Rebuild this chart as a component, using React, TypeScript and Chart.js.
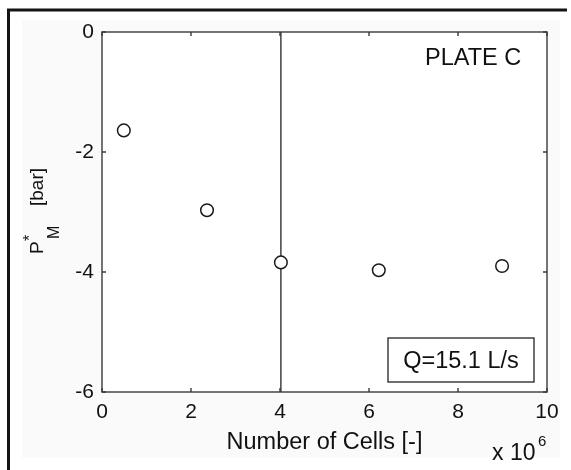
import React, { useEffect, useRef } from 'react';
import { Chart, registerables } from 'chart.js';

Chart.register(...registerables);

// Data (x in units of 10^6 cells)
const cellCounts = [0.49, 2.36, 4.02, 6.22, 8.99];
const pressures = [-1.64, -2.97, -3.84, -3.97, -3.9];
const refLineX = [4.02, 4.02];
const refLineY = [0, -6];
const xTicks = [0, 2, 4, 6, 8, 10];
const yTicks = [0, -2, -4, -6];
const plateLabel = 'PLATE C';
const flowLabel = 'Q=15.1 L/s';
const xTitle = 'Number of Cells [-]';

const FONT = '"Liberation Sans", Arial, sans-serif';

const decorPlugin = {
  id: 'decor',
  beforeDraw(chart: any) {
    const ctx = chart.ctx;
    const { left, top, right, bottom } = chart.chartArea;
    ctx.save();
    ctx.fillStyle = '#ffffff';
    ctx.fillRect(0, 0, chart.width, chart.height);
    ctx.fillStyle = '#fafafa';
    ctx.fillRect(22, 20, 538, 438);
    ctx.fillStyle = '#ffffff';
    ctx.fillRect(left, top, right - left, bottom - top);
    // outer frame (top + left)
    ctx.strokeStyle = '#141414';
    ctx.lineWidth = 3;
    ctx.beginPath();
    ctx.moveTo(8.5, 470);
    ctx.lineTo(8.5, 10);
    ctx.lineTo(567, 10);
    ctx.stroke();
    ctx.restore();
  },
  afterDraw(chart: any) {
    const ctx = chart.ctx;
    const { left, top, right, bottom } = chart.chartArea;
    const xs = chart.scales.x;
    const ys = chart.scales.y;
    ctx.save();
    // axis box
    ctx.strokeStyle = '#3a3a3a';
    ctx.lineWidth = 1.4;
    ctx.strokeRect(left, top, right - left, bottom - top);
    // inward ticks
    const tl = 4;
    ctx.beginPath();
    xTicks.forEach((v) => {
      const px = xs.getPixelForValue(v);
      ctx.moveTo(px, bottom);
      ctx.lineTo(px, bottom - tl);
      ctx.moveTo(px, top);
      ctx.lineTo(px, top + tl);
    });
    yTicks.forEach((v) => {
      const py = ys.getPixelForValue(v);
      ctx.moveTo(left, py);
      ctx.lineTo(left + tl, py);
      ctx.moveTo(right, py);
      ctx.lineTo(right - tl, py);
    });
    ctx.stroke();

    ctx.fillStyle = '#111111';
    ctx.textBaseline = 'alphabetic';
    // x title
    ctx.font = `23.5px ${FONT}`;
    ctx.textAlign = 'center';
    ctx.fillText(xTitle, (left + right) / 2, 449);
    // x 10^6
    ctx.textAlign = 'left';
    ctx.font = `23px ${FONT}`;
    ctx.fillText('x 10', 492, 460);
    ctx.font = `15px ${FONT}`;
    ctx.fillText('6', 538, 446);

    // y title: P^*_M [bar]
    ctx.save();
    ctx.translate(43, 254);
    ctx.rotate(-Math.PI / 2);
    ctx.textAlign = 'left';
    ctx.font = `19px ${FONT}`;
    ctx.fillText('P', 0, 0);
    ctx.font = `16px ${FONT}`;
    ctx.fillText('*', 13, -8);
    ctx.fillText('M', 15, 16);
    ctx.font = `19px ${FONT}`;
    ctx.fillText('[bar]', 48, 0);
    ctx.restore();

    // PLATE C
    ctx.font = `23.5px ${FONT}`;
    ctx.textAlign = 'left';
    ctx.fillText(plateLabel, 425, 65);

    // Legend-like box
    ctx.fillStyle = '#ffffff';
    ctx.fillRect(388, 338, 146, 44);
    ctx.strokeStyle = '#333333';
    ctx.lineWidth = 1.4;
    ctx.strokeRect(388, 338, 146, 44);
    ctx.fillStyle = '#111111';
    ctx.textAlign = 'center';
    ctx.font = `23.5px ${FONT}`;
    ctx.fillText(flowLabel, 461, 368);
    ctx.restore();
  },
};

export default function App() {
  const ref = useRef<HTMLCanvasElement | null>(null);
  useEffect(() => {
    if (!ref.current) return;
    const chart = new Chart(ref.current, {
      type: 'scatter',
      data: {
        datasets: [
          {
            label: 'points',
            data: cellCounts.map((x, i) => ({ x, y: pressures[i] })),
            pointStyle: 'circle',
            pointRadius: 6.3,
            pointBorderWidth: 1.5,
            pointBackgroundColor: '#ffffff',
            pointBorderColor: '#1a1a1a',
            showLine: false,
            order: 0,
          },
          {
            label: 'line',
            type: 'line',
            data: refLineX.map((x, i) => ({ x, y: refLineY[i] })),
            borderColor: '#333333',
            borderWidth: 1.4,
            pointRadius: 0,
            fill: false,
            order: 1,
          },
        ],
      },
      options: {
        responsive: false,
        animation: false,
        layout: { padding: { top: 32, right: 24, left: 0, bottom: 0 } },
        plugins: {
          legend: { display: false },
          tooltip: { enabled: false },
          title: { display: false },
        },
        scales: {
          x: {
            type: 'linear',
            min: 0,
            max: 10,
            afterBuildTicks: (s: any) => {
              s.ticks = xTicks.map((v) => ({ value: v }));
            },
            afterFit: (s: any) => {
              s.height = 78;
            },
            grid: { display: false, drawTicks: false, tickLength: 0 },
            border: { display: false },
            ticks: {
              padding: 8,
              color: '#111111',
              font: { family: FONT, size: 21 },
              maxRotation: 0,
            },
          },
          y: {
            type: 'linear',
            min: -6,
            max: 0,
            afterBuildTicks: (s: any) => {
              s.ticks = yTicks.map((v) => ({ value: v }));
            },
            afterFit: (s: any) => {
              s.width = 102;
            },
            grid: { display: false, drawTicks: false, tickLength: 0 },
            border: { display: false },
            ticks: {
              padding: 8,
              color: '#111111',
              font: { family: FONT, size: 21 },
            },
          },
        },
      },
      plugins: [decorPlugin],
    } as any);
    return () => chart.destroy();
  }, []);
  return (
    <div style={{ position: 'absolute', left: 0, top: 0, width: 571, height: 470 }}>
      <canvas ref={ref} width={571} height={470} style={{ display: 'block' }} />
    </div>
  );
}
